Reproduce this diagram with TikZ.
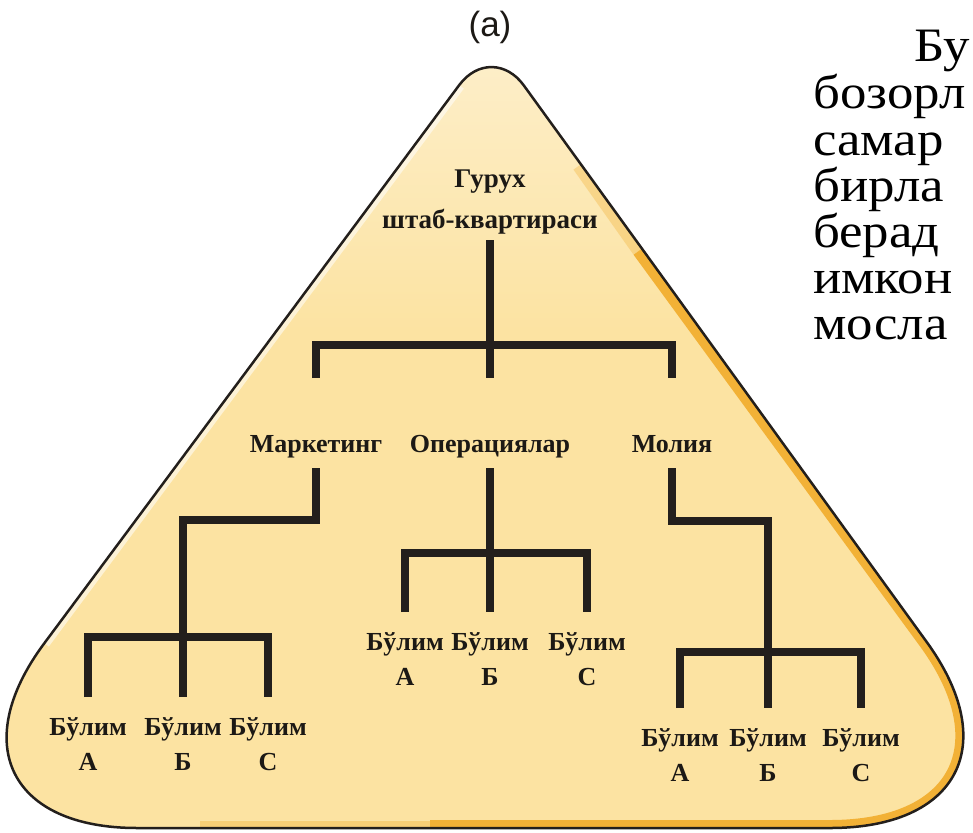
\documentclass[tikz,border=0pt]{standalone}
\usepackage{fontspec}
\setmainfont{Liberation Serif}
\newfontfamily\captionfont{Liberation Sans}
\newfontfamily\parafont[FakeStretch=1.1]{Liberation Serif}
\definecolor{fillyellow}{HTML}{FCE3A2}
\definecolor{fillpale}{HTML}{FDEFCB}
\definecolor{edgeorange}{HTML}{F2B136}
\definecolor{linecol}{HTML}{231F1C}
\definecolor{textcol}{HTML}{1C1915}
% outline of the rounded triangle (y axis points down, 1 unit = 1pt)
\def\trianglepath{(459.2,85.1) .. controls (477.2,60.8) and (506.4,61.1) .. (524.0,85.7)
  -- (926,641) .. controls (1002,745) and (958,828) .. (830,828)
  -- (137,828) .. controls (10.5,828) and (-31.3,744.9) .. (44.2,643.4) -- cycle}
\begin{document}
\begin{tikzpicture}[x=1pt,y=-1pt,
  orgline/.style={draw=linecol, line width=8pt},
  toplabel/.style={font=\fontsize{26}{34}\selectfont\bfseries, text=textcol,
    inner xsep=0pt, inner ysep=10pt, text height=18pt, text depth=6pt, anchor=base},
  unitlabel/.style={font=\fontsize{26}{35}\selectfont\bfseries, text=textcol, align=center,
    inner xsep=0pt, inner ysep=20pt, anchor=north},
  paraline/.style={font=\parafont\fontsize{48}{46}\selectfont, text=black, inner sep=0pt,
    text height=32pt, text depth=10pt, anchor=base west}]
\useasboundingbox (0,0) rectangle (973,832);
\clip (0,0) rectangle (973,832);

% triangle background with lighting
\fill[fillyellow] \trianglepath;
\begin{scope}
  \clip \trianglepath;
  \fill[top color=fillpale, bottom color=fillyellow] (0,40) rectangle (973,330);
  \draw[white, opacity=.55, line width=12pt] (459,85) -- (44,643);
  \draw[edgeorange, opacity=.35, line width=16pt] (580,165) -- (640,250);
  \draw[edgeorange, line width=16pt] (640,250) -- (926,641)
    .. controls (1002,745) and (958,828) .. (830,828) -- (430,828);
  \draw[edgeorange, opacity=.4, line width=14pt] (430,828) -- (200,828);
\end{scope}
\draw[linecol, line width=2.5pt] \trianglepath;

% caption
\node[font=\captionfont\fontsize{35}{40}\selectfont, text=textcol] (cap) at (490,27) {(a)};

% headquarters and the three functions
\node[font=\fontsize{27}{41}\selectfont\bfseries, text=textcol, align=center,
  inner xsep=0pt, inner ysep=6pt, anchor=south] (hq) at (490,240) {Гурух\\штаб-квартираси};
\node[toplabel] (mkt) at (316,452) {Маркетинг};
\node[toplabel] (ops) at (490,452) {Операциялар};
\node[toplabel] (fin) at (672,452) {Молия};

\coordinate (topbar) at (490,345);
\coordinate (mktstub) at (316,378);
\coordinate (opsstub) at (490,378);
\coordinate (finstub) at (672,378);
\draw[orgline] (hq.south) -- (opsstub);
\draw[orgline] (mktstub) |- (topbar) -| (finstub);

% marketing units
\node[unitlabel] (mA) at (88,697) {Бўлим\\А};
\node[unitlabel] (mB) at (183,697) {Бўлим\\Б};
\node[unitlabel] (mC) at (268,697) {Бўлим\\С};
\coordinate (mktturn) at (183,520);
\coordinate (mktbar) at (183,637);
\draw[orgline] (mkt.south) |- (mktturn) -- (mB.north);
\draw[orgline] (mA.north) |- (mktbar) -| (mC.north);

% operations units
\node[unitlabel] (oA) at (405,612) {Бўлим\\А};
\node[unitlabel] (oB) at (490,612) {Бўлим\\Б};
\node[unitlabel] (oC) at (587,612) {Бўлим\\С};
\coordinate (opsbar) at (490,553);
\draw[orgline] (ops.south) -- (oB.north);
\draw[orgline] (oA.north) |- (opsbar) -| (oC.north);

% finance units
\node[unitlabel] (fA) at (680,708) {Бўлим\\А};
\node[unitlabel] (fB) at (768,708) {Бўлим\\Б};
\node[unitlabel] (fC) at (861,708) {Бўлим\\С};
\coordinate (finturn) at (768,521);
\coordinate (finbar) at (768,652);
\draw[orgline] (fin.south) |- (finturn) -- (fB.north);
\draw[orgline] (fA.north) |- (finbar) -| (fC.north);

% paragraph running up to the right edge
\node[paraline] (p1) at (914,62) {Бу};
\node[paraline] (p2) at (813,109) {бозорл};
\node[paraline] (p3) at (813,155) {самар};
\node[paraline] (p4) at (813,201) {бирла};
\node[paraline] (p5) at (813,247) {берад};
\node[paraline] (p6) at (813,293) {имкон};
\node[paraline] (p7) at (813,339) {мосла};
\end{tikzpicture}
\end{document}
